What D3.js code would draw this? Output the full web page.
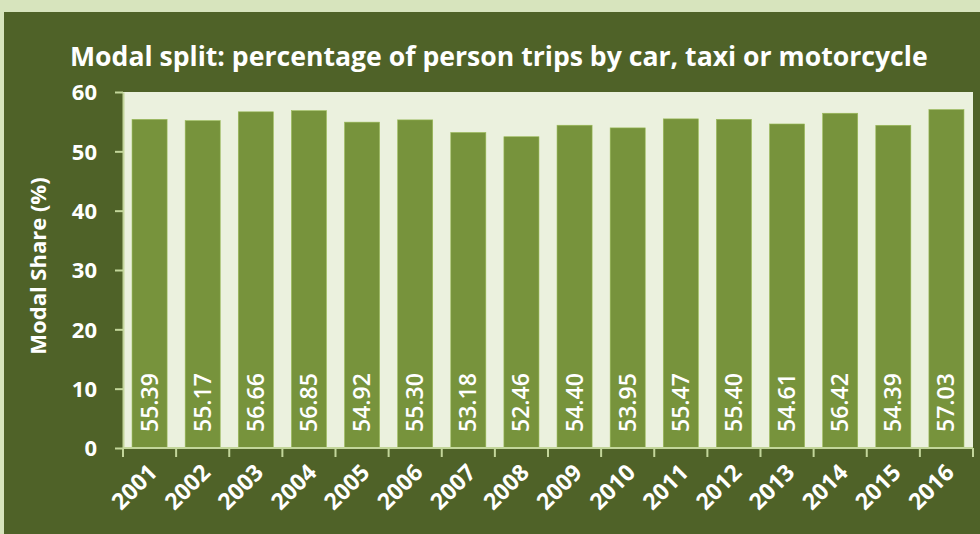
<!DOCTYPE html>
<html>
<head>
<meta charset="utf-8">
<script src="https://cdnjs.cloudflare.com/ajax/libs/d3/7.8.5/d3.min.js"></script>
<style>
  body { margin: 0; background: #d7e4bd; }
  svg { display: block; font-family: "Open Sans", sans-serif; }
</style>
</head>
<body>
<div id="chart"></div>
<script>
var years = ["2001", "2002", "2003", "2004", "2005", "2006", "2007", "2008",
             "2009", "2010", "2011", "2012", "2013", "2014", "2015", "2016"];
var shares = [55.39, 55.17, 56.66, 56.85, 54.92, 55.30, 53.18, 52.46,
              54.40, 53.95, 55.47, 55.40, 54.61, 56.42, 54.39, 57.03];
var yTicks = [0, 10, 20, 30, 40, 50, 60];
var chartTitle = "Modal split: percentage of person trips by car, taxi or motorcycle";
var yTitle = "Modal Share (%)";

var svgWidth = 980;
var svgHeight = 534;

var margin = { top: 92, right: 5, bottom: 86, left: 123 };
var width = svgWidth - margin.left - margin.right;
var height = 448 - margin.top;

var svg = d3.select("#chart")
  .append("svg")
  .attr("width", svgWidth)
  .attr("height", svgHeight);

// outer light frame + dark panel
svg.append("rect")
  .attr("width", svgWidth).attr("height", svgHeight)
  .attr("fill", "#d7e4bd");
svg.append("rect")
  .attr("x", 4).attr("y", 12)
  .attr("width", svgWidth - 4).attr("height", svgHeight - 12)
  .attr("fill", "#4f6228");

// title, sized to span the same width as the original
var title = svg.append("text")
  .attr("x", 70)
  .attr("y", 66)
  .attr("fill", "#ffffff")
  .attr("font-weight", "bold")
  .attr("font-size", "26px")
  .text(chartTitle);
var tw = title.node().getComputedTextLength();
title.attr("font-size", (26 * 858 / tw) + "px");

var chartGroup = svg.append("g")
  .attr("transform", `translate(${margin.left}, ${margin.top})`);

var xScale = d3.scaleBand()
  .domain(years)
  .range([0, width - 2])
  .paddingInner(0.34)
  .paddingOuter(0.17);

var yScale = d3.scaleLinear()
  .domain([0, 60])
  .range([height, 0]);

// plot area background
chartGroup.append("rect")
  .attr("width", width - 2)
  .attr("height", height)
  .attr("fill", "#ebf1de");

// bars
chartGroup.selectAll(".bar")
  .data(shares)
  .enter()
  .append("rect")
  .attr("class", "bar")
  .attr("x", (d, i) => xScale(years[i]))
  .attr("y", d => yScale(d))
  .attr("width", xScale.bandwidth())
  .attr("height", d => height - yScale(d))
  .attr("fill", "#77933c")
  .attr("stroke", "#9bbb59")
  .attr("stroke-width", 0.6);

// value labels inside bars
chartGroup.selectAll(".val")
  .data(shares)
  .enter()
  .append("text")
  .attr("class", "val")
  .attr("transform", (d, i) =>
    `translate(${xScale(years[i]) + xScale.bandwidth() / 2 + 8}, ${height - 16}) rotate(-90)`)
  .attr("fill", "#ffffff")
  .attr("font-size", "23px")
  .attr("font-weight", "600")
  .text(d => d.toFixed(2));

// y axis
var leftAxis = d3.axisLeft(yScale)
  .tickValues(yTicks)
  .tickSize(8)
  .tickSizeOuter(0)
  .tickPadding(18);

var yAxisG = chartGroup.append("g").call(leftAxis);
yAxisG.select(".domain").attr("stroke", "#c3d69b").attr("stroke-width", 2);
yAxisG.selectAll(".tick line").attr("stroke", "#c3d69b").attr("stroke-width", 2);
yAxisG.selectAll(".tick text")
  .attr("fill", "#ffffff")
  .attr("font-size", "22px")
  .attr("font-weight", "bold")
  .attr("font-family", "Open Sans, sans-serif")
  .attr("dy", "0.36em");

// x axis: line plus ticks between categories
var xAxisG = chartGroup.append("g")
  .attr("transform", `translate(0, ${height})`);
xAxisG.append("line")
  .attr("x1", 0).attr("x2", width - 2)
  .attr("stroke", "#c3d69b").attr("stroke-width", 2);
var step = xScale.step();
var bounds = d3.range(years.length + 1).map(i => xScale(years[0]) - xScale.paddingOuter() * step + i * step);
xAxisG.selectAll(".xtick")
  .data(bounds)
  .enter()
  .append("line")
  .attr("x1", d => d).attr("x2", d => d)
  .attr("y1", 0).attr("y2", 9)
  .attr("stroke", "#c3d69b").attr("stroke-width", 2);

xAxisG.selectAll(".xlab")
  .data(years)
  .enter()
  .append("text")
  .attr("transform", d => `translate(${xScale(d) + xScale.bandwidth() / 2 + 9}, 26) rotate(-45)`)
  .attr("text-anchor", "end")
  .attr("fill", "#ffffff")
  .attr("font-size", "23px")
  .attr("font-weight", "bold")
  .text(d => d);

// y axis title
svg.append("text")
  .attr("transform", `translate(46, 266) rotate(-90)`)
  .attr("text-anchor", "middle")
  .attr("fill", "#ffffff")
  .attr("font-size", "22px")
  .attr("font-weight", "bold")
  .text(yTitle);
</script>
</body>
</html>
